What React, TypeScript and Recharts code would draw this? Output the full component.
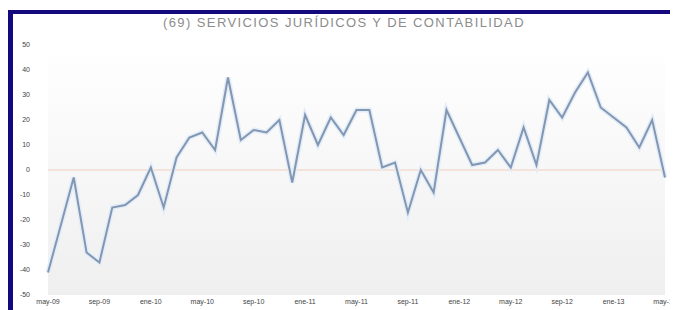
import { LineChart, Line, XAxis, YAxis, ReferenceArea, ReferenceLine } from "recharts";

const months = [
  "may-09", "jun-09", "jul-09", "ago-09", "sep-09", "oct-09", "nov-09", "dic-09",
  "ene-10", "feb-10", "mar-10", "abr-10", "may-10", "jun-10", "jul-10", "ago-10",
  "sep-10", "oct-10", "nov-10", "dic-10", "ene-11", "feb-11", "mar-11", "abr-11",
  "may-11", "jun-11", "jul-11", "ago-11", "sep-11", "oct-11", "nov-11", "dic-11",
  "ene-12", "feb-12", "mar-12", "abr-12", "may-12", "jun-12", "jul-12", "ago-12",
  "sep-12", "oct-12", "nov-12", "dic-12", "ene-13", "feb-13", "mar-13", "abr-13",
  "may-13",
];

const values = [
  -41, -22, -3, -33, -37, -15, -14, -10, 1, -15, 5, 13, 15, 8, 37, 12,
  16, 15, 20, -5, 22, 10, 21, 14, 24, 24, 1, 3, -17, 0, -9, 24,
  13, 2, 3, 8, 1, 17, 2, 28, 21, 31, 39, 25, 21, 17, 9, 20,
  -3,
];

const xTicks = months.filter((_, i) => i % 4 === 0);
const yTicks = [-50, -40, -30, -20, -10, 0, 10, 20, 30, 40, 50];

const data = months.map((m, i) => ({ m, v: values[i] }));

const TICK = { fontSize: 7, fill: "#444444", fontFamily: "Liberation Sans, Arial, sans-serif" };

export default function App() {
  return (
    <div
      style={{
        position: "relative",
        marginTop: 2,
        width: 670,
        height: 300,
        borderTop: "4px solid #14087f",
        borderLeft: "5px solid #14087f",
        background: "#fff",
        boxSizing: "border-box",
      }}
    >
      <div
        style={{
          position: "absolute",
          top: 1,
          left: 0,
          width: 662,
          textAlign: "center",
          fontFamily: "Liberation Sans, Arial, sans-serif",
          fontSize: 13,
          letterSpacing: 1.4,
          color: "#8c8c8c",
        }}
      >
        (69) SERVICIOS JURÍDICOS Y DE CONTABILIDAD
      </div>
      <LineChart width={665} height={296} data={data} margin={{ top: 31, right: 13, bottom: 0, left: 0 }}>
        <defs>
          <linearGradient id="bg" x1="0" y1="0" x2="0" y2="1">
            <stop offset="0%" stopColor="#ffffff" />
            <stop offset="100%" stopColor="#efefef" />
          </linearGradient>
        </defs>
        <ReferenceArea y1={-50} y2={50} fill="url(#bg)" fillOpacity={1} stroke="none" ifOverflow="visible" />
        <ReferenceLine y={0} stroke="#f2ddd0" strokeWidth={1.5} />
        <XAxis
          dataKey="m"
          ticks={xTicks}
          interval={0}
          tick={TICK}
          tickLine={false}
          axisLine={false}
          tickSize={0}
          tickMargin={4}
          height={15}
        />
        <YAxis
          domain={[-50, 50]}
          ticks={yTicks}
          tick={TICK}
          tickLine={false}
          axisLine={false}
          tickSize={0}
          tickMargin={18}
          width={35}
        />
        <Line dataKey="v" stroke="#e3edf8" strokeWidth={5} dot={false} isAnimationActive={false} />
        <Line dataKey="v" stroke="#8396b2" strokeWidth={2} dot={false} isAnimationActive={false} />
      </LineChart>
    </div>
  );
}
